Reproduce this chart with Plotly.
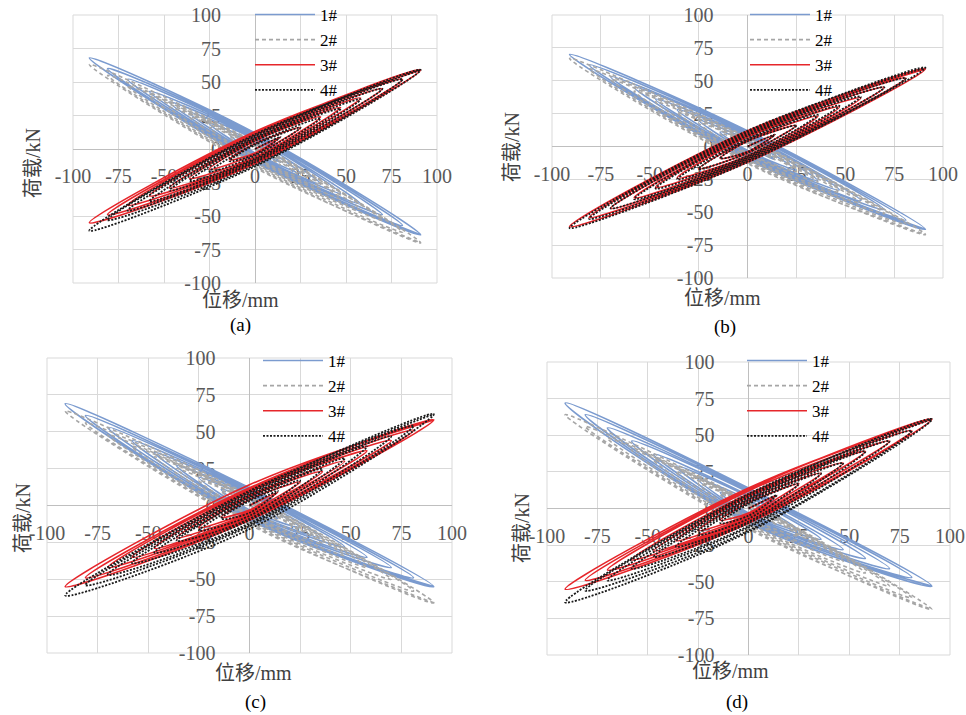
import plotly.graph_objects as go

W, H = 966, 715
SERIF = "Liberation Serif, Times New Roman, serif"
CJK = "Liberation Serif, Noto Sans CJK SC, sans-serif"

# ---- data ----
AMP = [14, 25, 36, 47, 58, 70, 81, 91]          # loop amplitudes, mm
NAMES = ["1#", "2#", "3#", "4#"]
PANELS = ["(a)", "(b)", "(c)", "(d)"]
TICKS = [-100, -75, -50, -25, 0, 25, 50, 75, 100]
X_TITLE = "位移/mm"
Y_TITLE = "荷载/kN"

# load at +amplitude tip, -amplitude tip, and at zero displacement (upper / lower branch), kN
a1_pos = [-10, -18, -26, -33, -41, -49, -57, -64]
a1_neg = [11, 19, 27, 35, 43, 52, 60, 68]
a1_up = [4, 5, 7, 8, 9, 10, 11, 12]
a1_lo = [-3, -4, -5, -6, -7, -8, -9, -10]
a2_pos = [-12, -21, -29, -37, -45, -53, -62, -70]
a2_neg = [9, 16, 24, 31, 39, 47, 55, 63]
a2_up = [1, 2, 2, 3, 3, 4, 4, 5]
a2_lo = [-6, -7, -8, -10, -11, -12, -13, -14]
a3_pos = [9, 16, 24, 31, 38, 45, 52, 59]
a3_neg = [-8, -15, -22, -29, -35, -42, -49, -55]
a3_up = [4, 6, 7, 8, 10, 11, 12, 13]
a3_lo = [-3, -4, -6, -7, -8, -9, -10, -11]
a4_pos = [9, 16, 23, 30, 37, 45, 52, 59]
a4_neg = [-9, -17, -24, -31, -39, -46, -53, -61]
a4_up = [3, 4, 6, 7, 8, 9, 10, 11]
a4_lo = [-4, -5, -7, -8, -9, -10, -12, -13]

b1_pos = [-10, -18, -26, -33, -41, -48, -56, -63]
b1_neg = [11, 20, 28, 36, 45, 53, 62, 70]
b1_up = [4, 5, 7, 8, 9, 10, 11, 12]
b1_lo = [-3, -4, -5, -6, -7, -8, -9, -10]
b2_pos = [-10, -19, -27, -35, -43, -51, -59, -67]
b2_neg = [10, 18, 26, 34, 42, 51, 59, 67]
b2_up = [2, 3, 3, 4, 5, 5, 6, 7]
b2_lo = [-5, -6, -8, -9, -10, -11, -12, -13]
b3_pos = [9, 16, 23, 30, 37, 45, 52, 59]
b3_neg = [-9, -17, -24, -31, -39, -47, -54, -61]
b3_up = [4, 5, 7, 8, 9, 10, 11, 12]
b3_lo = [-4, -5, -7, -8, -9, -10, -11, -12]
b4_pos = [9, 16, 24, 31, 38, 45, 52, 60]
b4_neg = [-9, -17, -25, -32, -40, -47, -55, -62]
b4_up = [4, 5, 6, 8, 9, 10, 11, 12]
b4_lo = [-4, -5, -7, -8, -9, -10, -11, -12]

c1_pos = [-9, -15, -22, -28, -35, -42, -49, -55]
c1_neg = [11, 19, 27, 36, 44, 53, 61, 69]
c1_up = [4, 5, 7, 8, 9, 10, 11, 12]
c1_lo = [-3, -4, -5, -6, -7, -8, -9, -10]
c2_pos = [-10, -18, -26, -34, -42, -50, -58, -66]
c2_neg = [10, 17, 25, 33, 40, 48, 56, 64]
c2_up = [2, 3, 3, 4, 5, 5, 6, 7]
c2_lo = [-4, -6, -7, -8, -10, -11, -12, -13]
c3_pos = [9, 16, 23, 30, 37, 44, 51, 58]
c3_neg = [-8, -15, -22, -29, -35, -42, -49, -55]
c3_up = [4, 6, 7, 9, 10, 11, 12, 14]
c3_lo = [-3, -4, -5, -6, -7, -8, -9, -10]
c4_pos = [10, 17, 25, 32, 40, 47, 54, 62]
c4_neg = [-9, -17, -24, -32, -39, -47, -54, -61]
c4_up = [3, 4, 5, 6, 7, 8, 9, 10]
c4_lo = [-5, -7, -9, -10, -12, -13, -14, -16]

d1_pos = [-8, -15, -21, -28, -34, -41, -47, -53]
d1_neg = [11, 20, 29, 37, 46, 55, 64, 72]
d1_up = [5, 6, 8, 9, 11, 12, 13, 14]
d1_lo = [-3, -4, -5, -6, -7, -8, -9, -10]
d2_pos = [-11, -19, -28, -36, -44, -53, -61, -69]
d2_neg = [10, 17, 25, 33, 40, 48, 56, 64]
d2_up = [1, 2, 2, 3, 3, 4, 4, 5]
d2_lo = [-6, -7, -8, -10, -11, -12, -13, -14]
d3_pos = [9, 17, 24, 31, 39, 46, 53, 61]
d3_neg = [-8, -15, -22, -29, -35, -42, -49, -55]
d3_up = [4, 6, 8, 9, 10, 12, 13, 14]
d3_lo = [-3, -4, -5, -6, -7, -8, -9, -10]
d4_pos = [9, 17, 24, 31, 39, 46, 53, 61]
d4_neg = [-10, -18, -26, -33, -41, -49, -56, -64]
d4_up = [3, 4, 5, 6, 7, 8, 9, 10]
d4_lo = [-5, -7, -9, -10, -12, -13, -15, -16]

SERIES = [
    [(a1_pos, a1_neg, a1_up, a1_lo), (a2_pos, a2_neg, a2_up, a2_lo),
     (a3_pos, a3_neg, a3_up, a3_lo), (a4_pos, a4_neg, a4_up, a4_lo)],
    [(b1_pos, b1_neg, b1_up, b1_lo), (b2_pos, b2_neg, b2_up, b2_lo),
     (b3_pos, b3_neg, b3_up, b3_lo), (b4_pos, b4_neg, b4_up, b4_lo)],
    [(c1_pos, c1_neg, c1_up, c1_lo), (c2_pos, c2_neg, c2_up, c2_lo),
     (c3_pos, c3_neg, c3_up, c3_lo), (c4_pos, c4_neg, c4_up, c4_lo)],
    [(d1_pos, d1_neg, d1_up, d1_lo), (d2_pos, d2_neg, d2_up, d2_lo),
     (d3_pos, d3_neg, d3_up, d3_lo), (d4_pos, d4_neg, d4_up, d4_lo)],
]

# ---- styles / layout ----
STYLES = [
    dict(color="#7b9bcf", width=1.6, dash="solid"),
    dict(color="#a6a6a6", width=1.6, dash="4px,3px"),
    dict(color="#e6262b", width=1.6, dash="solid"),
    dict(color="#1a1a1a", width=1.8, dash="2px,1.5px"),
]
# plot areas in pixels: (x0, x1), (y0, y1)
BOXES = [((73, 437), (15, 283)), ((552, 943), (15, 278)),
         ((47, 452), (358, 653)), ((547, 950), (362, 655))]
XTITLE_POS = [(240, 300), (722, 298), (253, 673), (730, 671)]
LABEL_POS = [(240, 325), (725, 327), (255, 702), (737, 702)]
YTITLE_POS = [(33, 163), (512, 147), (23, 518), (522, 528)]
LEGEND_POS = [(250, -3), (745, -3), (258, 343), (742, 343)]


def px(xp):
    return xp / W


def py(yp):
    return 1 - yp / H


def build_path(pos, neg, up, lo, positive_slope):
    xs, ys = [0], [0]
    for k, amp in enumerate(AMP):
        first, second = (lo[k], up[k]) if positive_slope else (up[k], lo[k])
        xs += [amp, 0, -amp, 0]
        ys += [pos[k], first, neg[k], second]
    xs.append(AMP[-1])
    ys.append(pos[-1])
    return xs, ys


fig = go.Figure()
layout = dict(template="none", width=W, height=H, margin=dict(l=0, r=0, t=0, b=0, autoexpand=False),
              paper_bgcolor="white", plot_bgcolor="white",
              showlegend=True, shapes=[], annotations=[])

for p in range(4):
    (x0, x1), (y0, y1) = BOXES[p]
    sfx = "" if p == 0 else str(p + 1)
    xa, ya = "x" + sfx, "y" + sfx
    leg = "legend" + sfx
    for s in range(4):
        pos, neg, up, lo = SERIES[p][s]
        xs, ys = build_path(pos, neg, up, lo, s >= 2)
        fig.add_trace(go.Scatter(
            x=xs, y=ys, mode="lines", name=NAMES[s], xaxis=xa, yaxis=ya,
            legend=leg, line=dict(shape="spline", smoothing=1.0, **STYLES[s]),
            hoverinfo="skip"))
    xdom = [px(x0), px(x1)]
    ydom = [py(y1), py(y0)]
    common = dict(range=[-100, 100], tickvals=TICKS, ticktext=[str(t) for t in TICKS],
                  showgrid=True, gridcolor="#d9d9d9", gridwidth=1,
                  zeroline=True, zerolinecolor="#bfbfbf", zerolinewidth=1,
                  showline=False, ticks="outside", tickcolor="rgba(0,0,0,0)",
                  tickfont=dict(family=SERIF, size=20, color="#595959"),
                  layer="below traces", anchor="free", fixedrange=True, automargin=False)
    layout["xaxis" + sfx] = dict(common, domain=xdom, position=(ydom[0] + ydom[1]) / 2,
                                 ticklen=9)
    layout["yaxis" + sfx] = dict(common, domain=ydom, position=(xdom[0] + xdom[1]) / 2,
                                 ticklen=30)
    layout["shapes"].append(dict(type="rect", xref=xa + " domain", yref=ya + " domain",
                                 x0=0, x1=1, y0=0, y1=1, layer="below",
                                 line=dict(color="#d9d9d9", width=1)))
    lx, ly = LEGEND_POS[p]
    layout[leg] = dict(x=px(lx), y=py(ly), xanchor="left", yanchor="top",
                       bgcolor="rgba(0,0,0,0)", borderwidth=0, itemwidth=60,
                       tracegroupgap=0,
                       font=dict(family=SERIF, size=17, color="black"))
    tx, ty = XTITLE_POS[p]
    layout["annotations"].append(dict(text=X_TITLE, x=px(tx), y=py(ty), xref="paper", yref="paper",
                                      xanchor="center", yanchor="middle", showarrow=False,
                                      font=dict(family=CJK, size=20, color="#404040")))
    lx2, ly2 = LABEL_POS[p]
    layout["annotations"].append(dict(text=PANELS[p], x=px(lx2), y=py(ly2), xref="paper", yref="paper",
                                      xanchor="center", yanchor="middle", showarrow=False,
                                      font=dict(family=SERIF, size=19, color="black")))
    yx, yy = YTITLE_POS[p]
    layout["annotations"].append(dict(text=Y_TITLE, x=px(yx), y=py(yy), xref="paper", yref="paper",
                                      xanchor="center", yanchor="middle", showarrow=False,
                                      textangle=-90,
                                      font=dict(family=CJK, size=20, color="#404040")))

fig.update_layout(**layout)
fig.write_html("out.html", config={"displayModeBar": False},
               post_script="document.body.style.margin='0px';")
